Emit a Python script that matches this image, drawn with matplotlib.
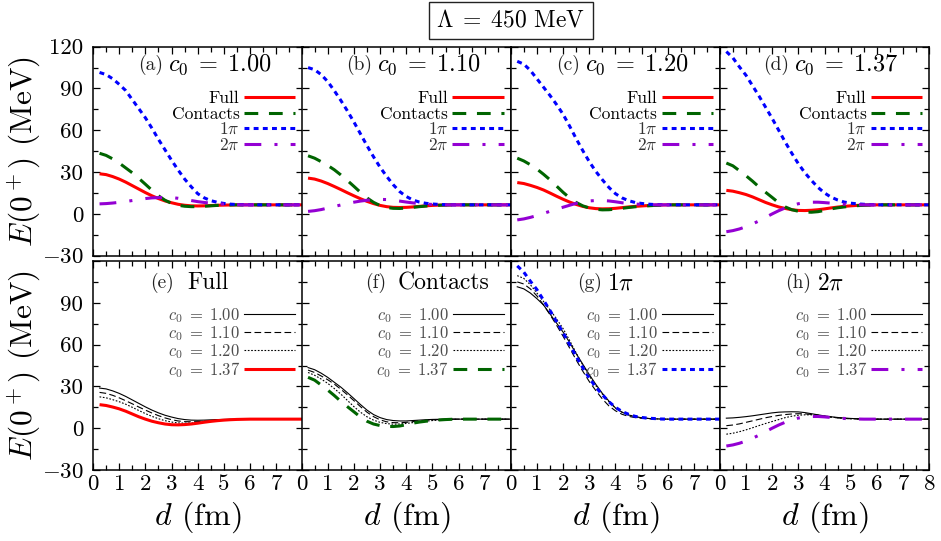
import matplotlib
matplotlib.use("Agg")
import matplotlib.pyplot as plt
from matplotlib.ticker import MultipleLocator, FixedLocator, NullFormatter

plt.rcParams['font.family'] = 'cmr10'
plt.rcParams['mathtext.fontset'] = 'cm'
plt.rcParams['axes.formatter.use_mathtext'] = True
plt.rcParams['axes.unicode_minus'] = True

# ---------------- data ----------------
d = [0.25, 0.5, 0.75, 1.0, 1.25, 1.5, 1.75, 2.0, 2.25, 2.5, 2.75, 3.0, 3.25,
     3.5, 3.75, 4.0, 4.25, 4.5, 4.75, 5.0, 5.25, 5.5, 5.75, 6.0, 7.0, 8.0]

c0_labels = ["1.00", "1.10", "1.20", "1.37"]
channel_names = ["Full", "Contacts", r"$1\pi$", r"$2\pi$"]
bottom_titles = ["Full", "Contacts", r"$1\pi$", r"$2\pi$"]
panel_letters = ["(a)", "(b)", "(c)", "(d)", "(e)", "(f)", "(g)", "(h)"]
lambda_label = r"$\Lambda\;=\;450$ MeV"

full_100 = [28.8, 28.2, 26.8, 25.0, 22.8, 20.3, 17.8, 15.3, 13.0, 11.0, 9.3, 8.0, 6.9,
            6.2, 5.8, 5.7, 5.8, 6.0, 6.2, 6.3, 6.4, 6.5, 6.5, 6.5, 6.5, 6.5]
full_110 = [25.7, 25.0, 23.6, 21.8, 19.7, 17.5, 15.2, 13.0, 10.9, 9.0, 7.4, 6.1, 5.2,
            4.7, 4.6, 4.7, 5.0, 5.4, 5.8, 6.1, 6.3, 6.4, 6.5, 6.5, 6.5, 6.5]
full_120 = [22.5, 21.8, 20.5, 19.0, 17.2, 15.0, 12.7, 10.5, 8.5, 6.8, 5.4, 4.4, 3.8,
            3.6, 3.7, 4.0, 4.5, 5.0, 5.4, 5.7, 6.0, 6.2, 6.4, 6.5, 6.5, 6.5]
full_137 = [16.9, 16.3, 15.2, 13.9, 12.2, 10.2, 8.2, 6.5, 5.0, 3.9, 3.0, 2.5, 2.4,
            2.6, 3.0, 3.6, 4.3, 4.9, 5.4, 5.8, 6.1, 6.3, 6.4, 6.5, 6.5, 6.5]

contacts_100 = [43.5, 42.0, 39.5, 36.5, 33.0, 29.5, 25.5, 21.3, 17.0, 13.0, 9.8, 7.6, 6.2,
                5.5, 5.2, 5.2, 5.5, 5.8, 6.1, 6.3, 6.4, 6.5, 6.5, 6.5, 6.5, 6.5]
contacts_110 = [41.7, 40.0, 37.5, 34.8, 31.7, 28.0, 24.0, 19.8, 15.5, 11.5, 8.3, 6.0, 4.6,
                4.0, 3.9, 4.2, 4.7, 5.2, 5.6, 6.0, 6.2, 6.4, 6.5, 6.5, 6.5, 6.5]
contacts_120 = [40.0, 38.0, 35.3, 32.2, 28.5, 24.5, 20.0, 15.5, 11.5, 8.2, 5.8, 4.2, 3.3,
                2.9, 3.0, 3.4, 4.0, 4.6, 5.1, 5.5, 5.8, 6.1, 6.3, 6.5, 6.5, 6.5]
contacts_137 = [36.5, 34.5, 31.0, 27.4, 23.5, 19.3, 15.5, 11.8, 8.0, 5.0, 3.0, 1.9, 1.3,
                1.2, 1.6, 2.5, 3.6, 4.4, 5.0, 5.5, 5.9, 6.2, 6.4, 6.5, 6.5, 6.5]

onepi_100 = [101.5, 100.0, 97.0, 93.0, 88.5, 82.0, 75.5, 69.0, 61.5, 53.5, 46.0, 38.5, 31.5,
             25.0, 19.5, 14.5, 11.5, 9.5, 8.3, 7.5, 7.0, 6.7, 6.6, 6.5, 6.5, 6.5]
onepi_110 = [105.0, 103.5, 100.0, 95.0, 88.5, 81.5, 74.0, 66.0, 57.5, 49.0, 41.0, 33.5, 27.0,
             21.0, 16.0, 12.5, 10.0, 8.5, 7.6, 7.1, 6.8, 6.6, 6.5, 6.5, 6.5, 6.5]
onepi_120 = [109.5, 107.5, 103.0, 97.0, 91.0, 85.0, 78.5, 71.5, 63.0, 54.0, 45.5, 37.5, 30.5,
             24.5, 19.0, 14.5, 11.5, 9.5, 8.2, 7.5, 7.0, 6.7, 6.6, 6.5, 6.5, 6.5]
onepi_137 = [116.5, 112.0, 105.5, 99.5, 92.0, 84.5, 76.5, 68.5, 60.0, 51.5, 43.5, 36.0, 29.5,
             24.0, 19.0, 15.0, 12.0, 10.0, 8.5, 7.7, 7.2, 6.9, 6.6, 6.5, 6.5, 6.5]

twopi_100 = [7.2, 7.4, 7.8, 8.3, 8.9, 9.6, 10.3, 11.0, 11.5, 11.7, 11.8, 11.7, 11.2,
             10.4, 9.6, 8.8, 8.2, 7.7, 7.3, 7.0, 6.8, 6.6, 6.5, 6.5, 6.5, 6.5]
twopi_110 = [1.8, 2.3, 3.1, 4.2, 5.3, 6.4, 7.5, 8.4, 9.2, 9.8, 10.2, 10.4, 10.3,
             9.9, 9.2, 8.5, 7.9, 7.4, 7.0, 6.8, 6.6, 6.5, 6.5, 6.5, 6.5, 6.5]
twopi_120 = [-4.3, -3.6, -2.5, -1.2, 0.3, 1.9, 3.4, 4.8, 6.2, 7.6, 8.6, 9.3, 9.6,
             9.6, 9.3, 8.7, 8.0, 7.5, 7.1, 6.8, 6.6, 6.5, 6.5, 6.5, 6.5, 6.5]
twopi_137 = [-12.8, -12.0, -10.8, -9.2, -7.2, -5.0, -2.5, 0.0, 2.3, 4.3, 6.0, 7.3, 8.1,
             8.4, 8.4, 8.1, 7.7, 7.3, 7.0, 6.7, 6.6, 6.5, 6.5, 6.5, 6.5, 6.5]

full_all = [full_100, full_110, full_120, full_137]
contacts_all = [contacts_100, contacts_110, contacts_120, contacts_137]
onepi_all = [onepi_100, onepi_110, onepi_120, onepi_137]
twopi_all = [twopi_100, twopi_110, twopi_120, twopi_137]
channels = [full_all, contacts_all, onepi_all, twopi_all]

# ---------------- styles ----------------
ch_colors = ["#ff0000", "#006400", "#0000ff", "#9400d3"]
ch_dashes = [None, (4.5, 3.5), (1.6, 1.4), (5.5, 4.3, 1.0, 4.3)]
ch_lw = 2.2
thin_dashes = [None, (6, 3), (1.5, 1.5)]
thin_lw = 0.8

W, H = 941, 541
fig = plt.figure(figsize=(W / 100, H / 100), dpi=100)

col_x = [93, 301.5, 510.7, 719.8]
pw = 209.5
row_top = [46.7, 261]
ph = 209

label_pos_top = [(0.335, 0.36), (0.335, 0.36), (0.33, 0.355), (0.33, 0.355)]
label_pos_bot = [(0.385, 0.45), (0.405, 0.46), (0.436, 0.462), (0.436, 0.466)]

TICK_FS = 16.5


def style_axes(ax, row, col):
    ax.set_xlim(0, 8)
    ax.set_ylim(-30, 120)
    ax.xaxis.set_major_locator(MultipleLocator(1))
    ax.xaxis.set_minor_locator(MultipleLocator(0.5))
    ax.yaxis.set_major_locator(MultipleLocator(30))
    ax.yaxis.set_minor_locator(MultipleLocator(15))
    ax.tick_params(which='both', direction='in', top=True, right=True,
                   width=0.9, labelsize=TICK_FS)
    ax.tick_params(axis='y', pad=7)
    ax.tick_params(axis='x', pad=3)
    ax.tick_params(which='major', length=5)
    ax.tick_params(which='minor', length=3.5)
    for s in ax.spines.values():
        s.set_linewidth(1.1)
    if col == 0:
        ax.yaxis.set_major_locator(FixedLocator([-30, 0, 30, 60, 90, 120]))
        if row == 0:
            ax.set_yticklabels(["$-30$", "0", "30", "60", "90", "120"])
        else:
            ax.set_yticklabels(["$-30$", "0", "30", "60", "90", ""])
    else:
        ax.yaxis.set_major_formatter(NullFormatter())
    if row == 1:
        ax.xaxis.set_major_locator(FixedLocator(list(range(9))))
        labs = [str(i) for i in range(9)]
        if col < 3:
            labs[-1] = ""
        ax.set_xticklabels(labs)
        ax.set_xlabel(r"$d$ (fm)", fontsize=23, labelpad=4)
    else:
        ax.xaxis.set_major_formatter(NullFormatter())


for row in range(2):
    for col in range(4):
        ax = fig.add_axes([col_x[col] / W, 1 - (row_top[row] + ph) / H, pw / W, ph / H])
        style_axes(ax, row, col)
        if row == 0:
            for k in range(4):
                ax.plot(d, channels[k][col], color=ch_colors[k], lw=ch_lw,
                        dashes=ch_dashes[k] if ch_dashes[k] else (None, None),
                        label=channel_names[k], solid_capstyle='butt', dash_capstyle='butt')
            leg = ax.legend(loc='upper right', bbox_to_anchor=(0.965, 0.79),
                            markerfirst=False, frameon=False, fontsize=12.5,
                            handlelength=2.95, handletextpad=0.25, labelspacing=0.02,
                            borderaxespad=0, borderpad=0)
            for t in leg.get_texts()[2:]:
                t.set_color('#333333')
            xr, xl = label_pos_top[col]
            ax.text(xr, 0.912, panel_letters[col], transform=ax.transAxes, ha='right',
                    va='center', fontsize=14, color='#222222')
            ax.text(xl, 0.912, r"$c_0\;=\;%s$" % c0_labels[col], transform=ax.transAxes,
                    ha='left', va='center', fontsize=17.5)
        else:
            series = channels[col]
            for k in range(3):
                ax.plot(d, series[k], color='black', lw=thin_lw,
                        dashes=thin_dashes[k] if thin_dashes[k] else (None, None),
                        label=r"$c_0\;=\;%s$" % c0_labels[k])
            ax.plot(d, series[3], color=ch_colors[col], lw=ch_lw,
                    dashes=ch_dashes[col] if ch_dashes[col] else (None, None),
                    label=r"$c_0\;=\;%s$" % c0_labels[3], solid_capstyle='butt')
            leg = ax.legend(loc='upper right', bbox_to_anchor=(0.965, 0.785),
                            markerfirst=False, frameon=False, fontsize=12,
                            handlelength=3.05, handletextpad=0.25, labelspacing=-0.05,
                            borderaxespad=0, borderpad=0)
            for t in leg.get_texts():
                t.set_color('#4d4d4d')
            xr, xl = label_pos_bot[col]
            ax.text(xr, 0.895, panel_letters[4 + col], transform=ax.transAxes, ha='right',
                    va='center', fontsize=14, color='#222222')
            ax.text(xl, 0.895, bottom_titles[col], transform=ax.transAxes,
                    ha='left', va='center', fontsize=17)

for row in range(2):
    yc = 1 - (row_top[row] + ph / 2) / H
    fig.text(24 / W, yc, r"$E(0^+)$ (MeV)", rotation=90, ha='center', va='center',
             fontsize=22.5)

fig.text(511 / W, 1 - 20.5 / H, lambda_label, ha='center', va='center', fontsize=17,
         bbox=dict(boxstyle='square,pad=0.3', fc='white', ec='#222222', lw=1.0))

fig.savefig("out.png", dpi=100)
